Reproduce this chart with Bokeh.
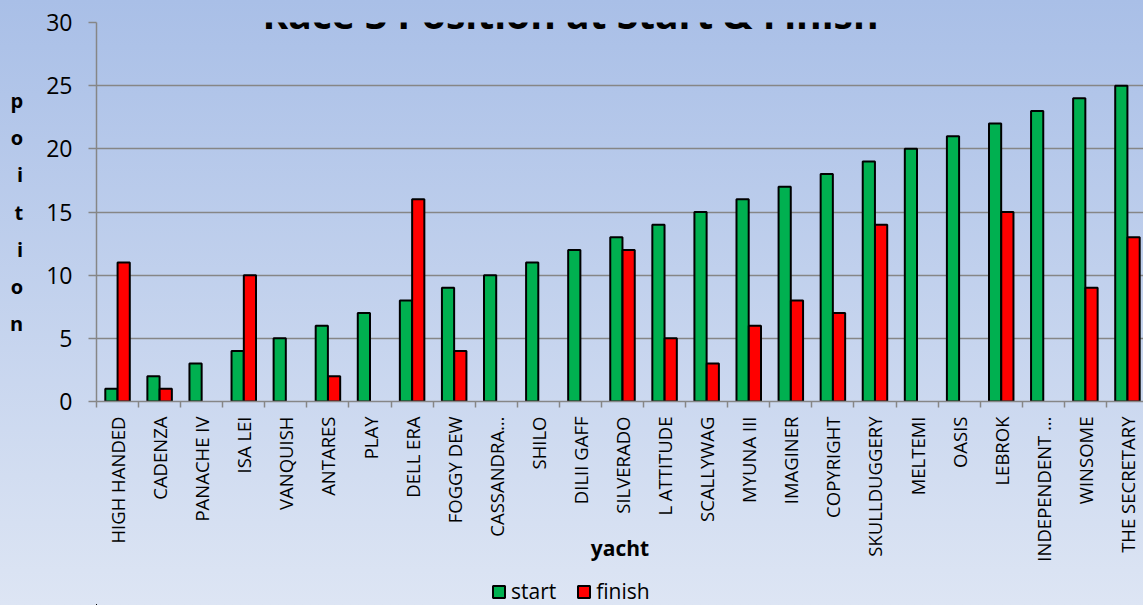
import math
from bokeh.plotting import figure
from bokeh.layouts import column
from bokeh.models import Range1d, FixedTicker, Label, Legend, LegendItem, ColumnDataSource
from bokeh.embed import file_html
from bokeh.resources import INLINE

# ---- data ----
yachts = ["HIGH HANDED", "CADENZA", "PANACHE IV", "ISA LEI", "VANQUISH", "ANTARES",
          "PLAY", "DELL ERA", "FOGGY DEW", "CASSANDRA\u2026", "SHILO", "DILII GAFF",
          "SILVERADO", "L ATTITUDE", "SCALLYWAG", "MYUNA III", "IMAGINER", "COPYRIGHT",
          "SKULLDUGGERY", "MELTEMI", "OASIS", "LEBROK", "INDEPENDENT \u2026", "WINSOME",
          "THE SECRETARY"]
start = [1, 2, 3, 4, 5, 6, 7, 8, 9, 10, 11, 12, 13, 14, 15, 16, 17, 18, 19, 20,
         21, 22, 23, 24, 25]
finish = [11, 1, None, 10, None, 2, None, 16, 4, None, None, None, 12, 5, 3, 6,
          8, 7, 14, None, None, 15, None, 9, 13]
y_ticks = [0, 5, 10, 15, 20, 25, 30]
title_text = "Race 3 Position at Start & Finish"
y_title = "poition"
x_title = "yacht"
series_names = ["start", "finish"]
colors = ["#00B050", "#FF0000"]

n = len(yachts)
centers = [i + 0.5 for i in range(n)]
BAR_W = 0.29
OFF = 0.146

src_start = ColumnDataSource(dict(x=[c - OFF for c in centers], top=start))
src_finish = ColumnDataSource(dict(
    x=[c + OFF for c, f in zip(centers, finish) if f is not None],
    top=[f for f in finish if f is not None]))

FONT = "Open Sans"
GRAY = "#868686"
W = 1143
H1, H2 = 570, 35
LEFT, TOP = 96, 22
BOTTOM = H1 - 401
PX_X = 1052 / 25.0                  # pixels per category
PX_Y = (H1 - TOP - BOTTOM) / 30.0   # pixels per y unit

p = figure(width=W, height=H1, output_backend="svg", toolbar_location=None,
           x_range=Range1d(0, (W - LEFT) / PX_X), y_range=Range1d(0, 30),
           min_border_left=LEFT, min_border_right=0, min_border_top=TOP,
           min_border_bottom=BOTTOM)
p.styles = {"background": "linear-gradient(to bottom, #a9bfe7 0%, #dae3f3 100%)"}
p.background_fill_alpha = 0
p.border_fill_alpha = 0
p.outline_line_color = None

r1 = p.vbar(x="x", top="top", width=BAR_W, bottom=0, source=src_start,
            fill_color=colors[0], line_color="black", line_width=2)
r2 = p.vbar(x="x", top="top", width=BAR_W, bottom=0, source=src_finish,
            fill_color=colors[1], line_color="black", line_width=2)

# grid
p.xgrid.visible = False
p.ygrid.ticker = FixedTicker(ticks=y_ticks)
p.ygrid.grid_line_color = GRAY
p.ygrid.grid_line_width = 1.5

# y axis
ya = p.yaxis[0]
ya.ticker = FixedTicker(ticks=y_ticks)
ya.axis_line_color = GRAY
ya.axis_line_width = 1.5
ya.major_tick_line_color = GRAY
ya.major_tick_line_width = 1.5
ya.major_tick_out = 8
ya.major_tick_in = 0
ya.minor_tick_line_color = None
ya.major_label_text_font = FONT
ya.major_label_text_font_size = "23px"
ya.major_label_text_color = "black"
ya.major_label_standoff = 16
ya.axis_label = "\n".join(y_title)
ya.axis_label_orientation = "horizontal"
ya.axis_label_text_font = FONT
ya.axis_label_text_font_style = "bold"
ya.axis_label_text_font_size = "20px"
ya.axis_label_text_color = "black"
ya.axis_label_text_line_height = 1.38
ya.axis_label_text_align = "center"
ya.axis_label_standoff = 20

# x axis
xa = p.xaxis[0]
xa.ticker = FixedTicker(ticks=centers, minor_ticks=list(range(n + 1)))
xa.major_label_overrides = {c: name for c, name in zip(centers, yachts)}
xa.axis_line_color = GRAY
xa.axis_line_width = 1.5
xa.major_tick_out = 0
xa.major_tick_in = 0
xa.major_tick_line_color = None
xa.minor_tick_out = 6
xa.minor_tick_in = 0
xa.minor_tick_line_color = GRAY
xa.minor_tick_line_width = 1.5
xa.major_label_orientation = math.pi / 2
xa.major_label_standoff = 9
xa.major_label_text_font = FONT
xa.major_label_text_font_size = "18.5px"
xa.major_label_text_color = "black"
xa.axis_label = x_title
xa.axis_label_text_font = FONT
xa.axis_label_text_font_style = "bold"
xa.axis_label_text_font_size = "21px"
xa.axis_label_text_color = "black"
xa.axis_label_standoff = -31

# title (data units, above the frame)
p.add_layout(Label(x=(570 - LEFT) / PX_X, y=30 + (TOP - 13) / PX_Y, text=title_text,
                   text_font=FONT, text_font_style="bold", text_font_size="39px",
                   text_align="center", text_baseline="alphabetic", text_color="black"))

# legend strip below the chart (its frame is aligned with the chart's frame)
p2 = figure(width=W, height=H2, output_backend="svg", toolbar_location=None,
            x_range=Range1d(1000, 1100), y_range=Range1d(1000, 1000 + H2),
            x_axis_location=None, y_axis_location=None,
            min_border_left=0, min_border_right=0, min_border_top=0, min_border_bottom=0)
p2.styles = {"background": "linear-gradient(to bottom, #dae3f3 0%, #dde5f4 100%)"}
p2.background_fill_alpha = 0
p2.border_fill_alpha = 0
p2.outline_line_color = None
p2.grid.visible = False
# legend proxies: same data, but far outside this strip's visible ranges
l1 = p2.vbar(x="x", top="top", width=BAR_W, bottom=0, source=src_start,
             fill_color=colors[0], line_color="black", line_width=2)
l2 = p2.vbar(x="x", top="top", width=BAR_W, bottom=0, source=src_finish,
             fill_color=colors[1], line_color="black", line_width=2)
legend = Legend(items=[LegendItem(label=series_names[0], renderers=[l1]),
                       LegendItem(label=series_names[1], renderers=[l2])],
                orientation="horizontal", location=(395, 0),
                glyph_width=15, glyph_height=15, label_standoff=5, spacing=20,
                padding=0, margin=0, background_fill_alpha=0, border_line_alpha=0,
                label_text_font=FONT, label_text_font_size="21px", label_text_color="black")
p2.add_layout(legend, "center")

layout = column(p, p2, spacing=0)
open("out.html", "w").write(file_html(layout, INLINE))
